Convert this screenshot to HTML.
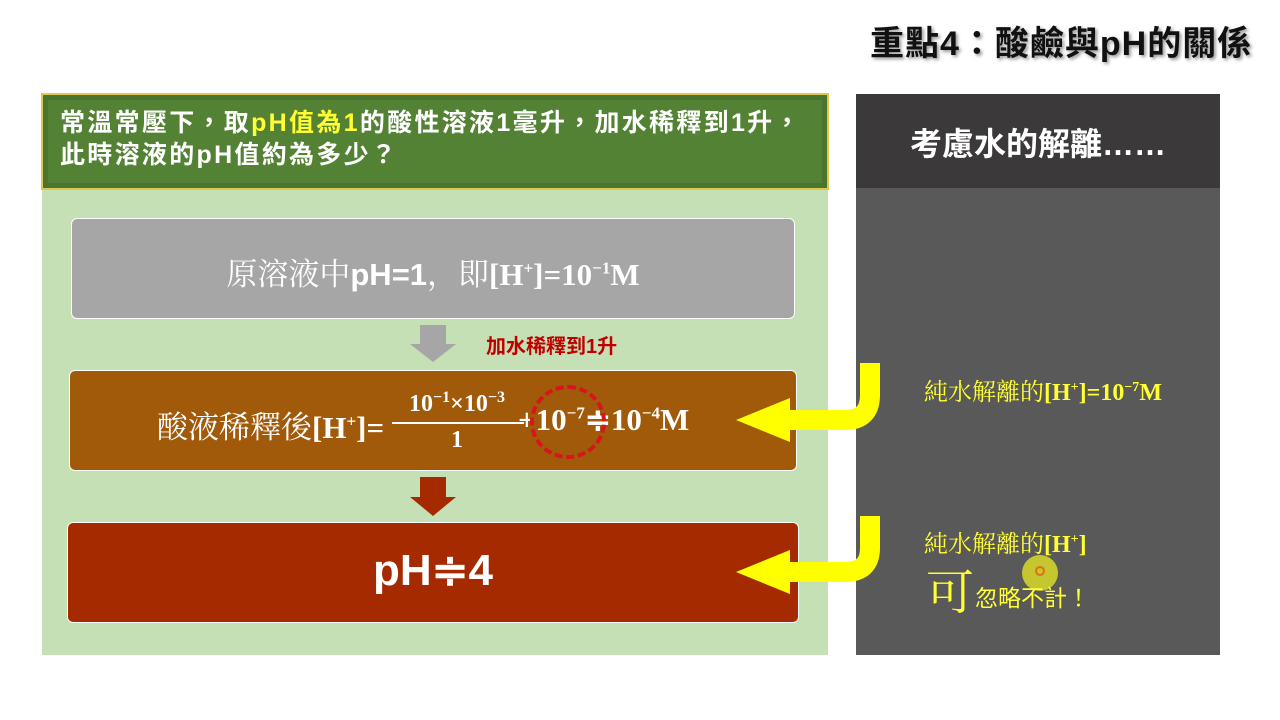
<!DOCTYPE html>
<html><head><meta charset="utf-8"><style>
body{margin:0;width:1280px;height:720px;background:#fff;position:relative;overflow:hidden;font-family:"Liberation Sans","Noto Sans CJK TC",sans-serif}
.a{position:absolute;white-space:nowrap}
.serif{font-family:"Liberation Serif","Noto Serif CJK SC",serif}
</style></head><body>
<div class="a" style="left:870px;top:16px;font-size:34px;font-weight:bold;color:#111;letter-spacing:1px;text-shadow:2px 2px 3px #999">重點4：酸鹼與pH的關係</div>

<div class="a" style="left:42px;top:188px;width:786px;height:467px;background:#c5e0b4"></div>
<div class="a" style="left:41px;top:93px;width:784px;height:93px;background:#548235;border:2px solid #e2c84a;box-shadow:inset 0 0 0 5px #4a7530"></div>
<div class="a" style="left:60px;top:107px;font-size:25px;font-weight:bold;color:#fff;line-height:32px;letter-spacing:2.3px">常溫常壓下，取<span style="color:#ffff33">pH值為1</span>的酸性溶液1毫升，加水稀釋到1升，<br>此時溶液的pH值約為多少？</div>

<div class="a" style="left:856px;top:94px;width:364px;height:94px;background:#3b3939"></div>
<div class="a" style="left:856px;top:188px;width:364px;height:467px;background:#595959"></div>
<div class="a" style="left:856px;top:119px;width:364px;text-align:center;font-size:32px;font-weight:bold;color:#fff">考慮水的解離……</div>

<div class="a" style="left:71px;top:218px;width:722px;height:99px;background:#a6a6a6;border:1px solid #fff;border-radius:6px"></div>
<div class="a serif" style="left:71px;top:249px;width:724px;text-align:center;font-size:31px;color:#fff"><span>原溶液中</span><b style="font-family:'Liberation Sans'">pH=1</b>，即<b>[H<sup style="font-size:17px">+</sup>]=10<sup style="font-size:17px">−1</sup>M</b></div>

<svg class="a" style="left:0;top:0" width="1280" height="720">
<polygon points="420,325 446,325 446,344 456,344 433,362 410,344 420,344" fill="#a6a6a6"/>
<polygon points="420,477 446,477 446,497 456,497 433,516 410,497 420,497" fill="#a52a00"/>
</svg>
<div class="a" style="left:486px;top:330px;font-size:20px;font-weight:bold;color:#c00000">加水稀釋到1升</div>

<div class="a" style="left:69px;top:370px;width:726px;height:99px;background:#a15a09;border:1px solid #fff;border-radius:6px"></div>
<div class="a serif" style="left:157px;top:402px;font-size:31px;color:#fff">酸液稀釋後<b>[H<sup style="font-size:17px">+</sup>]=</b></div>
<div class="a serif" style="left:392px;top:389px;width:130px;text-align:center;font-size:24px;font-weight:bold;color:#fff">10<sup style="font-size:16px">−1</sup>×10<sup style="font-size:16px">−3</sup></div>
<div class="a" style="left:392px;top:422px;width:132px;height:2px;background:#fff"></div>
<div class="a serif" style="left:392px;top:427px;width:130px;text-align:center;font-size:24px;font-weight:bold;color:#fff">1</div>
<div class="a serif" style="left:518px;top:402px;font-size:31px;font-weight:bold;color:#fff">+10<sup style="font-size:17px">−7</sup>≑10<sup style="font-size:17px">−4</sup>M</div>
<div class="a" style="left:530px;top:385px;width:68px;height:66px;border:4px dashed #d8141c;border-radius:50%"></div>

<div class="a" style="left:67px;top:522px;width:730px;height:99px;background:#a52a00;border:1px solid #fff;border-radius:6px"></div>
<div class="a" style="left:67px;top:545px;width:732px;text-align:center;font-size:44px;font-weight:bold;color:#fff">pH≑4</div>

<svg class="a" style="left:0;top:0" width="1280" height="720">
<path d="M870,363 V395 Q870,420 845,420 H775" stroke="#ffff00" stroke-width="20" fill="none"/>
<polygon points="790,398 790,442 736,420" fill="#ffff00"/>
<path d="M870,516 V548 Q870,572 845,572 H775" stroke="#ffff00" stroke-width="20" fill="none"/>
<polygon points="790,550 790,594 736,572" fill="#ffff00"/>
<circle cx="1040" cy="573" r="18" fill="#d9d92a" opacity="0.85"/>
<circle cx="1040" cy="571" r="4" fill="none" stroke="#e07010" stroke-width="2"/>
</svg>
<div class="a serif" style="left:924px;top:372px;font-size:24px;color:#ffff33">純水解離的<b>[H<sup style="font-size:14px">+</sup>]=10<sup style="font-size:14px">−7</sup>M</b></div>
<div class="a serif" style="left:924px;top:524px;font-size:24px;color:#ffff33">純水解離的<b>[H<sup style="font-size:14px">+</sup>]</b></div>
<div class="a serif" style="left:926px;top:554px;font-size:48px;color:#ffff33">可</div>
<div class="a" style="left:975px;top:579px;font-size:23px;color:#ffff33">忽略不計！</div>
</body></html>
